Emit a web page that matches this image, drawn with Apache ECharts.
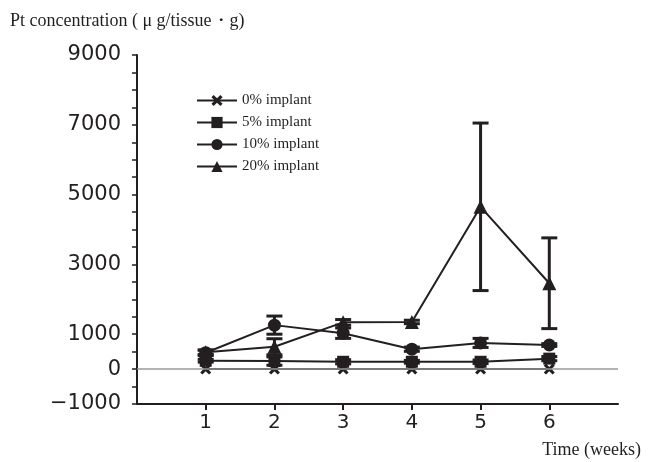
<!DOCTYPE html>
<html>
<head>
<meta charset="utf-8">
<script src="https://cdn.jsdelivr.net/npm/echarts@6/dist/echarts.min.js"></script>
<style>
html, body { margin: 0; padding: 0; background: #fff; }
#main { width: 653px; height: 462px; }
</style>
</head>
<body>
<div id="main"></div>
<script>
// weeks and mean Pt concentration per implant group
var weeks = [1, 2, 3, 4, 5, 6];
var names = ['0% implant', '5% implant', '10% implant', '20% implant'];
var pt0 = [0, 0, 0, 0, 0, 0];
var pt5 = [240, 230, 210, 210, 210, 300];
var pt10 = [470, 1260, 1030, 570, 750, 690];
var pt20 = [480, 640, 1340, 1350, 4650, 2460];
// error bar half widths (SD)
var sd0 = [0, 0, 0, 0, 0, 0];
var sd5 = [40, 120, 60, 40, 50, 60];
var sd10 = [80, 260, 150, 60, 130, 40];
var sd20 = [60, 230, 80, 50, 2400, 1300];
var yLabels = [-1000, 0, 1000, 3000, 5000, 7000, 9000];
var yTicks = [-1000, -500, 0, 500, 1000, 1500, 2000, 2500, 3000, 3500, 4000, 4500,
  5000, 5500, 6000, 6500, 7000, 7500, 8000, 8500, 9000];

var crossPath = 'path://M0,2L2,0L5,3L8,0L10,2L7,5L10,8L8,10L5,7L2,10L0,8L3,5Z';
var symbols = [crossPath, 'rect', 'circle', 'triangle'];
var sizes = [11, 12, 13, 14];
var means = [pt0, pt5, pt10, pt20];
var sds = [sd0, sd5, sd10, sd20];

function pairs(vals) {
  return weeks.map(function (w, i) { return [w, vals[i]]; });
}

function errData(vals, sd) {
  var out = [];
  weeks.forEach(function (w, i) {
    if (sd[i] > 0) out.push([w, vals[i] - sd[i], vals[i] + sd[i]]);
  });
  return out;
}

function renderErr(params, api) {
  var lo = api.coord([api.value(0), api.value(1)]);
  var hi = api.coord([api.value(0), api.value(2)]);
  var half = 8;
  var st = { stroke: '#231f20', lineWidth: 3 };
  return {
    type: 'group',
    children: [
      { type: 'line', shape: { x1: lo[0], y1: lo[1], x2: hi[0], y2: hi[1] }, style: st },
      { type: 'line', shape: { x1: lo[0] - half, y1: lo[1], x2: lo[0] + half, y2: lo[1] }, style: st },
      { type: 'line', shape: { x1: hi[0] - half, y1: hi[1], x2: hi[0] + half, y2: hi[1] }, style: st }
    ]
  };
}

var series = [];
names.forEach(function (n, k) {
  series.push({
    name: n,
    type: 'line',
    data: pairs(means[k]),
    symbol: symbols[k],
    symbolSize: sizes[k],
    showAllSymbol: true,
    lineStyle: { color: '#231f20', width: 2 },
    itemStyle: { color: '#231f20' },
    z: 3,
    markLine: k === 0 ? {
      silent: true,
      symbol: 'none',
      label: { show: false },
      lineStyle: { color: '#999', width: 1.5, type: 'solid' },
      data: [{ yAxis: 0 }]
    } : undefined
  });
  series.push({
    type: 'custom',
    name: n + ' sd',
    renderItem: renderErr,
    data: errData(means[k], sds[k]),
    z: 4
  });
});

var myChart = echarts.init(document.getElementById('main'));
var options = {
  animation: false,
  backgroundColor: '#fff',
  textStyle: { fontFamily: 'DejaVu Sans' },
  grid: { left: 137, right: 35, top: 55, bottom: 58 },
  title: [
    {
      text: 'Pt concentration ( μ g/tissue・g)',
      left: 5, top: 7,
      textStyle: { fontFamily: 'Liberation Serif', fontSize: 18, fontWeight: 'normal', color: '#231f20' }
    },
    {
      text: 'Time (weeks)',
      right: 7, top: 436,
      textStyle: { fontFamily: 'Liberation Serif', fontSize: 18, fontWeight: 'normal', color: '#231f20' }
    }
  ],
  legend: {
    data: names,
    orient: 'vertical',
    left: 191, top: 88,
    itemWidth: 40, itemHeight: 14, itemGap: 7,
    textStyle: { fontFamily: 'Liberation Serif', fontSize: 15, color: '#231f20' }
  },
  xAxis: {
    type: 'value',
    min: 0, max: 7, interval: 1,
    axisLine: { onZero: false, lineStyle: { color: '#231f20', width: 2 } },
    axisTick: { customValues: weeks, length: 6, lineStyle: { color: '#231f20', width: 2 } },
    axisLabel: { customValues: weeks, fontSize: 20, color: '#231f20', margin: 9 },
    splitLine: { show: false }
  },
  yAxis: {
    type: 'value',
    min: -1000, max: 9000, interval: 500,
    axisLine: { show: true, lineStyle: { color: '#231f20', width: 2 } },
    axisTick: { show: true, customValues: yTicks, length: 5, lineStyle: { color: '#231f20', width: 1.5 } },
    axisLabel: {
      customValues: yLabels, fontSize: 21, color: '#231f20', margin: 16,
      formatter: function (v) { return v < 0 ? '\u2212' + Math.abs(v) : String(v); }
    },
    splitLine: { show: false }
  },
  series: series
};
myChart.setOption(options);
</script>
</body>
</html>
